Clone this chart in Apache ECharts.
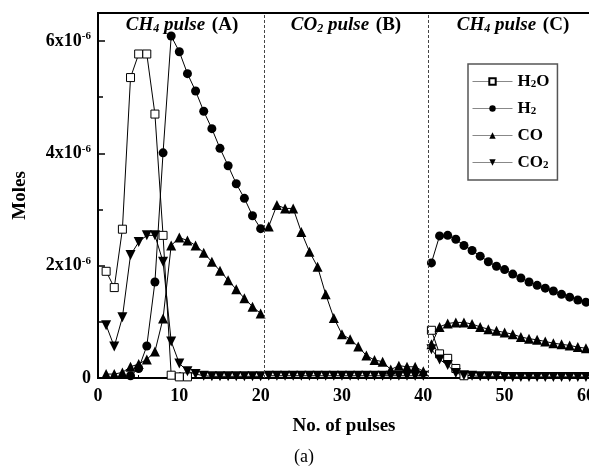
<!DOCTYPE html>
<html>
<head>
    <title></title>
    <meta charset="UTF-8">
    <script type="text/javascript" src="https://cdn.jsdelivr.net/npm/echarts/dist/echarts.min.js"></script>
    <style type="text/css">
        html, body { margin: 0; padding: 0; background: #fff; }
        #pulse_chart { width: 589px; height: 466px; }
    </style>
</head>
<body>
<div id="pulse_chart"></div>

<script type="text/javascript">
    // pulse numbers of the three stages
    var pulsesA = [1, 2, 3, 4, 5, 6, 7, 8, 9, 10, 11, 12, 13, 14, 15, 16, 17, 18, 19, 20];
    var pulsesB = [21, 22, 23, 24, 25, 26, 27, 28, 29, 30, 31, 32, 33, 34, 35, 36, 37, 38, 39, 40];
    var pulsesC = [41, 42, 43, 44, 45, 46, 47, 48, 49, 50, 51, 52, 53, 54, 55, 56, 57, 58, 59, 60];

    // moles, in units of 1e-6 ; null = no point
    var h2oA = [1.90, 1.61, 2.65, 5.35, 5.77, 5.77, 4.70, 2.54, 0.05, 0.02, 0.02, null, null, null, null, null, null, null, null, null];
    var h2oC = [0.85, 0.43, 0.35, 0.17, 0.04, null, null, null, null, null, null, null, null, null, null, null, null, null, null, null];

    var h2A = [null, null, null, 0.04, 0.17, 0.57, 1.71, 4.01, 6.09, 5.81, 5.42, 5.11, 4.75, 4.44, 4.09, 3.78, 3.46, 3.20, 2.89, 2.66];
    var h2C = [2.05, 2.53, 2.54, 2.47, 2.36, 2.27, 2.17, 2.07, 1.99, 1.93, 1.85, 1.78, 1.71, 1.65, 1.60, 1.55, 1.49, 1.44, 1.39, 1.35];

    var coA = [0.07, 0.07, 0.10, 0.20, 0.25, 0.33, 0.47, 1.06, 2.36, 2.50, 2.45, 2.36, 2.23, 2.07, 1.91, 1.74, 1.58, 1.42, 1.27, 1.15];
    var coB = [2.70, 3.08, 3.02, 3.02, 2.60, 2.25, 1.98, 1.49, 1.07, 0.78, 0.69, 0.56, 0.40, 0.32, 0.29, 0.15, 0.22, 0.20, 0.20, 0.12];
    var coC = [0.60, 0.91, 0.97, 0.99, 0.99, 0.96, 0.91, 0.87, 0.84, 0.81, 0.78, 0.73, 0.70, 0.68, 0.65, 0.62, 0.60, 0.58, 0.55, 0.53];

    var co2A = [0.94, 0.56, 1.08, 2.19, 2.42, 2.54, 2.54, 2.07, 0.65, 0.26, 0.12, 0.07, 0.04, 0.03, 0.03, 0.03, 0.03, 0.03, 0.03, 0.03];
    var co2B = [0.04, 0.04, 0.04, 0.04, 0.04, 0.04, 0.04, 0.04, 0.04, 0.04, 0.04, 0.04, 0.04, 0.04, 0.04, 0.04, 0.04, 0.04, 0.04, 0.04];
    var co2C = [0.51, 0.33, 0.23, 0.09, 0.05, 0.04, 0.03, 0.03, 0.03, 0.02, 0.02, 0.02, 0.02, 0.02, 0.02, 0.02, 0.02, 0.02, 0.02, 0.02];

    var yTicks = [0, 2, 4, 6];
    var stageBounds = [20.4, 40.6];

    var serif = 'Liberation Serif';
    var sub = { fontFamily: serif, fontWeight: 'bold', fontSize: 11, verticalAlign: 'bottom', lineHeight: 11 };

    function seg(xs, ys) {
        var out = [];
        for (var i = 0; i < xs.length; i++) {
            if (ys[i] !== null) out.push([xs[i], ys[i]]);
        }
        return out;
    }

    var look = {
        'H2O': { symbol: 'rect', symbolSize: 8, itemStyle: { color: '#fff', borderColor: '#000', borderWidth: 1 } },
        'H2':  { symbol: 'circle', symbolSize: 9, itemStyle: { color: '#000' } },
        'CO':  { symbol: 'triangle', symbolSize: 10, itemStyle: { color: '#000' } },
        'CO2': { symbol: 'triangle', symbolSize: 10, symbolRotate: 180, itemStyle: { color: '#000' } }
    };

    function mk(name, data) {
        var s = {
            name: name,
            type: 'line',
            data: data,
            symbol: look[name].symbol,
            symbolSize: look[name].symbolSize,
            symbolRotate: look[name].symbolRotate || 0,
            itemStyle: look[name].itemStyle,
            lineStyle: { color: '#000', width: 1 },
            showAllSymbol: true,
            animation: false
        };
        return s;
    }

    var series = [
        mk('H2O', seg(pulsesA, h2oA)),
        mk('H2O', seg(pulsesC, h2oC)),
        mk('H2', seg(pulsesA, h2A)),
        mk('H2', seg(pulsesC, h2C)),
        mk('CO', seg(pulsesA, coA)),
        mk('CO', seg(pulsesB, coB)),
        mk('CO', seg(pulsesC, coC)),
        mk('CO2', seg(pulsesA, co2A)),
        mk('CO2', seg(pulsesB, co2B)),
        mk('CO2', seg(pulsesC, co2C))
    ];
    series[0].markLine = {
        silent: true,
        symbol: ['none', 'none'],
        label: { show: false },
        lineStyle: { type: [3, 2], color: '#444', width: 1 },
        data: stageBounds.map(function (v) { return { xAxis: v }; })
    };

    var legendText = {
        'H2O': '{n|H}{s|2}{n|O}',
        'H2': '{n|H}{s|2}',
        'CO': '{n|CO}',
        'CO2': '{n|CO}{s|2}'
    };

    var chart = echarts.init(document.getElementById('pulse_chart'));
    var big = { fontFamily: serif, fontWeight: 'bold', fontStyle: 'italic', fontSize: 19, lineHeight: 20 };
    var bigSub = { fontFamily: serif, fontWeight: 'bold', fontStyle: 'italic', fontSize: 12, lineHeight: 12, verticalAlign: 'bottom' };
    var up = { fontFamily: serif, fontWeight: 'bold', fontSize: 19, lineHeight: 20 };

    function stageTitle(x, text) {
        return {
            type: 'text', x: x, y: 25,
            style: {
                text: text, align: 'center', verticalAlign: 'middle',
                rich: { i: big, s: bigSub, u: up }
            }
        };
    }

    chart.setOption({
        backgroundColor: '#fff',
        animation: false,
        grid: { left: 98, right: -1, top: 13, bottom: 88, show: true, borderColor: '#000', borderWidth: 2, outerBoundsMode: 'none' },
        legend: {
            data: ['H2O', 'H2', 'CO', 'CO2'],
            orient: 'vertical',
            left: 468, top: 64,
            padding: [9, 8, 9, 4],
            itemGap: 10,
            itemWidth: 40,
            itemHeight: 8,
            borderColor: '#555',
            borderWidth: 1.5,
            backgroundColor: '#fff',
            lineStyle: { color: '#888', width: 1 },
            formatter: function (name) { return legendText[name]; },
            textStyle: {
                color: '#000', lineHeight: 16,
                rich: {
                    n: { fontFamily: serif, fontWeight: 'bold', fontSize: 17, lineHeight: 16 },
                    s: sub
                }
            }
        },
        xAxis: {
            type: 'value', min: 0, max: 60.5, interval: 10,
            name: 'No. of pulses', nameLocation: 'middle', nameGap: 39,
            nameTextStyle: { fontFamily: serif, fontWeight: 'bold', fontSize: 19, color: '#000' },
            axisLine: { lineStyle: { color: '#000', width: 2 } },
            axisTick: { inside: true, length: 6, lineStyle: { color: '#000', width: 1.5 } },
            minorTick: { show: true, splitNumber: 2, length: 3, lineStyle: { color: '#000' } },
            splitLine: { show: false },
            axisLabel: { margin: 9, color: '#000', fontFamily: serif, fontWeight: 'bold', fontSize: 18, showMaxLabel: false }
        },
        yAxis: {
            type: 'value', min: 0, max: 6.5, interval: 2,
            name: 'Moles', nameLocation: 'middle', nameGap: 68, nameRotate: 90,
            nameTextStyle: { fontFamily: serif, fontWeight: 'bold', fontSize: 19, color: '#000' },
            axisLine: { show: true, lineStyle: { color: '#000', width: 2 } },
            axisTick: { inside: true, length: 7, lineStyle: { color: '#000', width: 1.5 } },
            minorTick: { show: true, splitNumber: 2, length: 5, lineStyle: { color: '#000', width: 1.5 } },
            splitLine: { show: false },
            axisLabel: {
                margin: 7, color: '#000', showMaxLabel: false,
                formatter: function (v) {
                    if (yTicks.indexOf(v) < 0) return '';
                    return v === 0 ? '{m|0}' : '{m|' + v + 'x10}{e|-6}';
                },
                rich: {
                    m: { fontFamily: serif, fontWeight: 'bold', fontSize: 18, lineHeight: 20 },
                    e: { fontFamily: serif, fontWeight: 'bold', fontSize: 11, lineHeight: 11, verticalAlign: 'top' }
                }
            }
        },
        graphic: [
            stageTitle(182, '{i|CH}{s|4}{i| pulse}  {u|(A)}'),
            stageTitle(346, '{i|CO}{s|2}{i| pulse}  {u|(B)}'),
            stageTitle(513, '{i|CH}{s|4}{i| pulse}  {u|(C)}'),
            {
                type: 'text', x: 304, y: 457,
                style: { text: '(a)', align: 'center', verticalAlign: 'middle', fontFamily: serif, fontSize: 18, fill: '#000' }
            }
        ],
        series: series
    });
</script>
</body>
</html>
